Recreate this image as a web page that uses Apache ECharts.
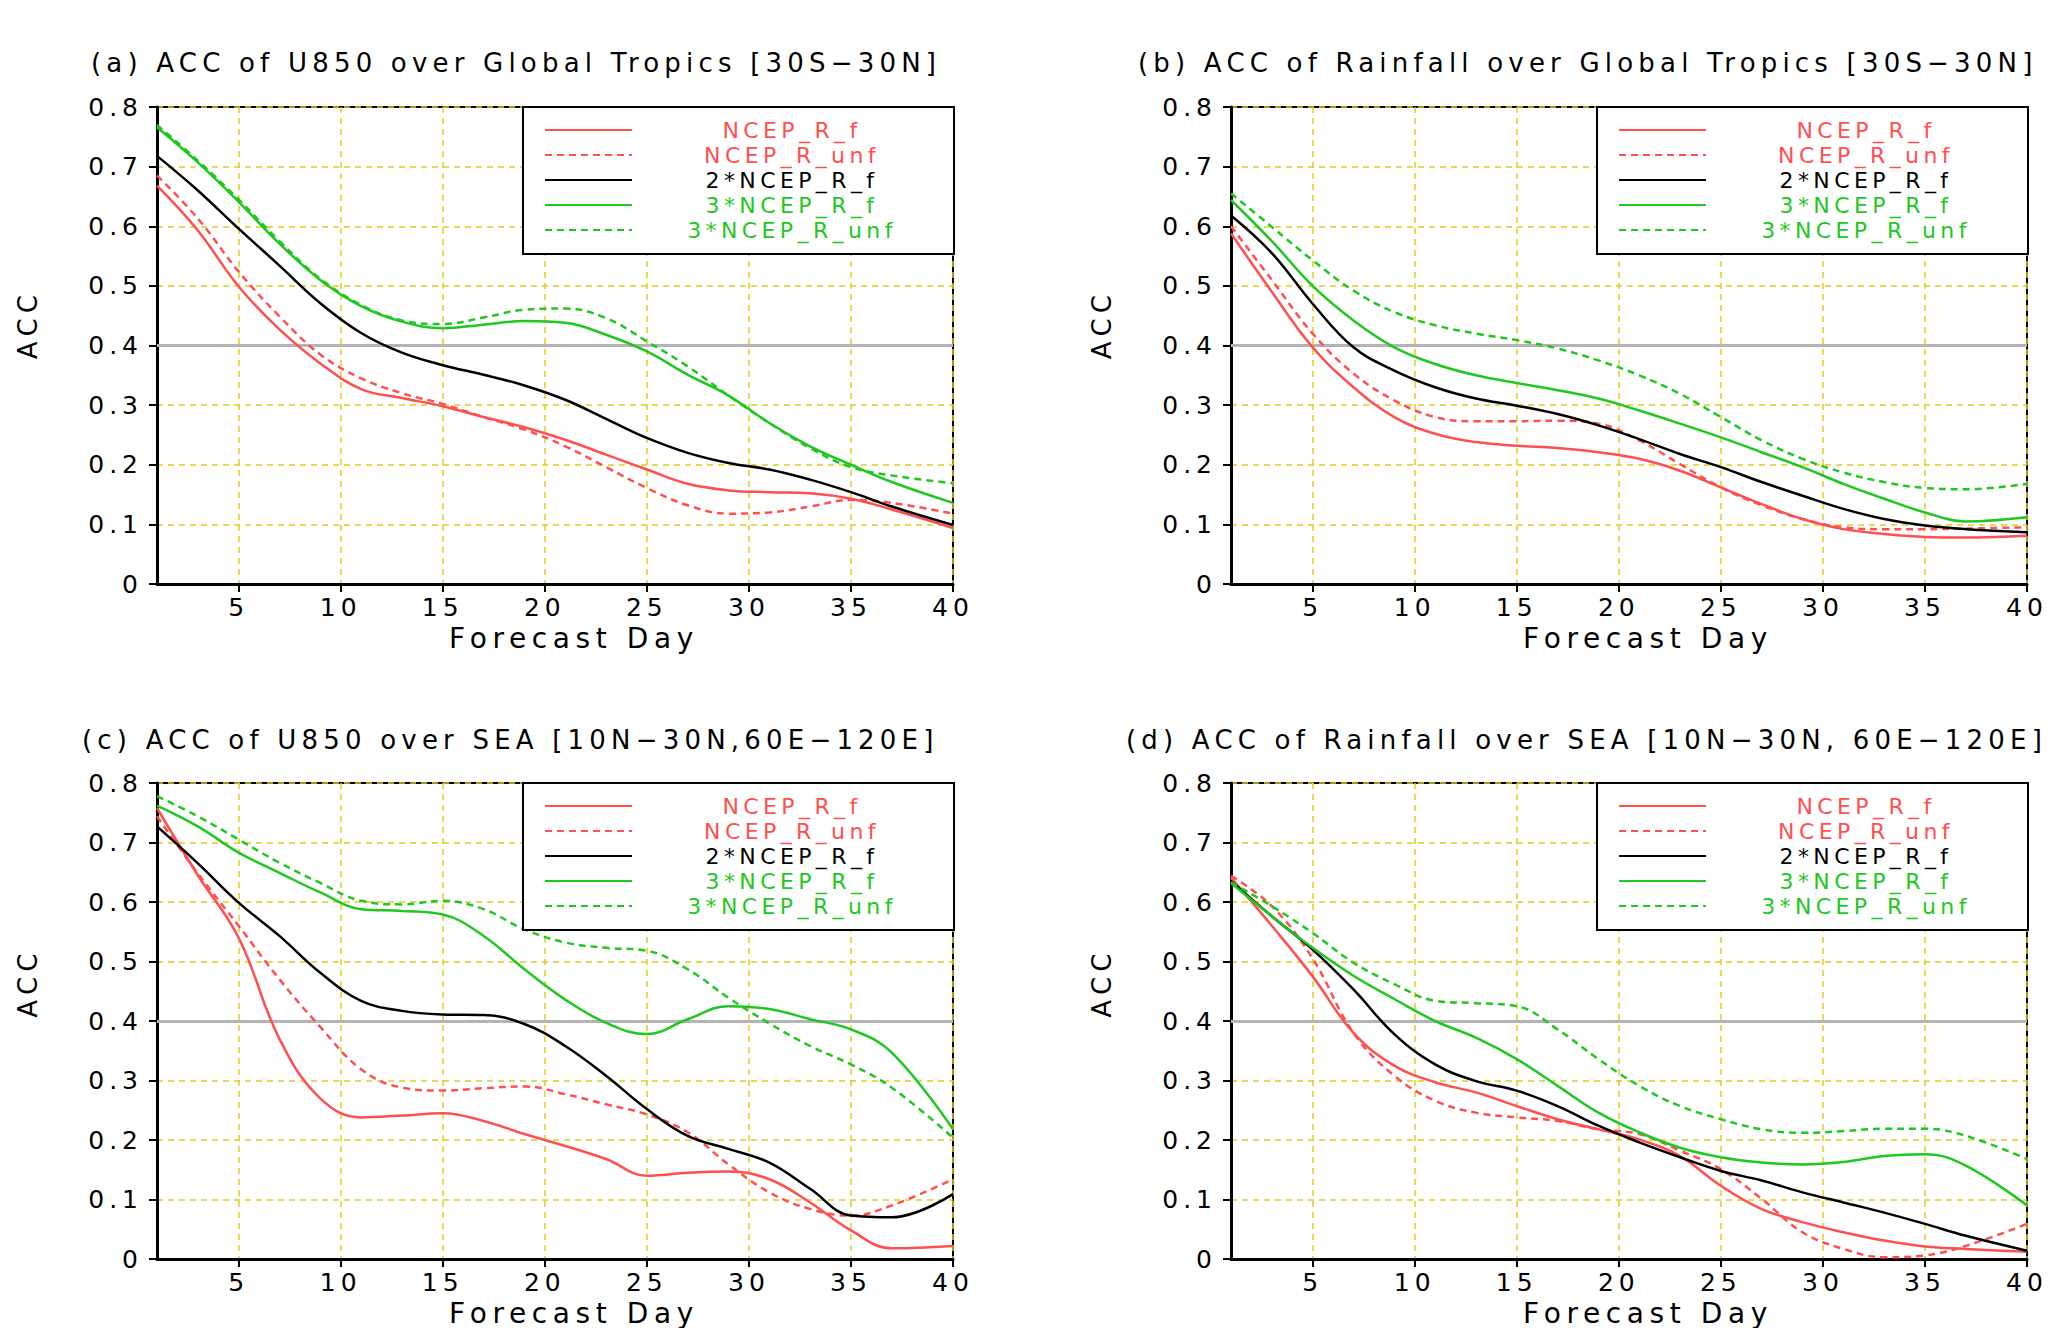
<!DOCTYPE html>
<html>
<head>
<meta charset="utf-8">
<title>ACC of U850 and Rainfall</title>
<script src="https://cdn.jsdelivr.net/npm/echarts@6/dist/echarts.min.js"></script>
<style>
  html, body { margin: 0; padding: 0; background: #fff; }
  #main { width: 2049px; height: 1328px; }
  /* GrADS text is set wide */
  #main text { letter-spacing: 0.2em; }
</style>
</head>
<body>
<div id="main"></div>
<script>
// forecast days the curves were read at
var days = [1, 3, 5, 7, 9, 11, 13, 15, 17, 19, 21, 23, 25, 27, 29, 31, 33, 35, 37, 40];
var dayTicks = [5, 10, 15, 20, 25, 30, 35, 40];
var names = ['NCEP_R_f', 'NCEP_R_unf', '2*NCEP_R_f', '3*NCEP_R_f', '3*NCEP_R_unf'];
var titles = [
  '(a) ACC of U850 over Global Tropics [30S\u221230N]',
  '(b) ACC of Rainfall over Global Tropics [30S\u221230N]',
  '(c) ACC of U850 over SEA [10N\u221230N,60E\u2212120E]',
  '(d) ACC of Rainfall over SEA [10N\u221230N, 60E\u2212120E]'
];

// (a) U850, global tropics
var a_r_f   = [0.668, 0.593, 0.499, 0.427, 0.370, 0.327, 0.312, 0.298, 0.280, 0.263, 0.242, 0.217, 0.192, 0.168, 0.157, 0.154, 0.152, 0.143, 0.125, 0.094];
var a_r_unf = [0.685, 0.613, 0.524, 0.449, 0.385, 0.345, 0.320, 0.302, 0.280, 0.259, 0.231, 0.196, 0.161, 0.132, 0.118, 0.120, 0.130, 0.141, 0.136, 0.118];
var a_2f    = [0.718, 0.660, 0.596, 0.534, 0.471, 0.421, 0.388, 0.367, 0.351, 0.333, 0.309, 0.277, 0.245, 0.220, 0.203, 0.192, 0.175, 0.154, 0.130, 0.099];
var a_3f    = [0.766, 0.707, 0.641, 0.571, 0.510, 0.466, 0.440, 0.429, 0.435, 0.441, 0.438, 0.418, 0.390, 0.351, 0.316, 0.270, 0.231, 0.200, 0.171, 0.136];
var a_3unf  = [0.770, 0.710, 0.645, 0.575, 0.512, 0.468, 0.442, 0.436, 0.447, 0.460, 0.462, 0.446, 0.407, 0.365, 0.316, 0.270, 0.228, 0.196, 0.182, 0.169];

// (b) rainfall, global tropics
var b_r_f   = [0.588, 0.490, 0.397, 0.330, 0.280, 0.252, 0.238, 0.232, 0.228, 0.221, 0.210, 0.190, 0.162, 0.134, 0.109, 0.092, 0.084, 0.079, 0.078, 0.081];
var b_r_unf = [0.600, 0.510, 0.420, 0.353, 0.308, 0.280, 0.273, 0.273, 0.274, 0.269, 0.241, 0.201, 0.162, 0.132, 0.109, 0.095, 0.092, 0.092, 0.093, 0.095];
var b_2f    = [0.618, 0.555, 0.470, 0.397, 0.358, 0.330, 0.311, 0.299, 0.285, 0.266, 0.243, 0.218, 0.196, 0.171, 0.148, 0.126, 0.109, 0.098, 0.092, 0.087];
var b_3f    = [0.644, 0.575, 0.500, 0.442, 0.397, 0.369, 0.350, 0.337, 0.325, 0.311, 0.291, 0.269, 0.246, 0.221, 0.196, 0.168, 0.143, 0.120, 0.105, 0.112];
var b_3unf  = [0.655, 0.599, 0.543, 0.492, 0.456, 0.434, 0.420, 0.409, 0.395, 0.375, 0.350, 0.319, 0.280, 0.241, 0.210, 0.187, 0.171, 0.161, 0.159, 0.168];

// (c) U850, SEA
var c_r_f   = [0.758, 0.645, 0.540, 0.370, 0.270, 0.238, 0.241, 0.245, 0.232, 0.210, 0.190, 0.168, 0.140, 0.145, 0.147, 0.134, 0.095, 0.048, 0.018, 0.022];
var c_r_unf = [0.744, 0.648, 0.560, 0.470, 0.390, 0.319, 0.288, 0.283, 0.287, 0.290, 0.277, 0.260, 0.243, 0.213, 0.159, 0.112, 0.084, 0.073, 0.090, 0.134];
var c_2f    = [0.727, 0.665, 0.599, 0.543, 0.481, 0.434, 0.417, 0.411, 0.410, 0.395, 0.358, 0.308, 0.252, 0.207, 0.185, 0.162, 0.118, 0.073, 0.070, 0.109];
var c_3f    = [0.762, 0.727, 0.683, 0.649, 0.616, 0.588, 0.585, 0.579, 0.543, 0.487, 0.436, 0.397, 0.378, 0.403, 0.425, 0.420, 0.403, 0.386, 0.347, 0.218];
var c_3unf  = [0.778, 0.744, 0.705, 0.666, 0.632, 0.602, 0.596, 0.602, 0.588, 0.554, 0.532, 0.523, 0.518, 0.487, 0.439, 0.396, 0.358, 0.327, 0.288, 0.204];

// (d) rainfall, SEA
var d_r_f   = [0.641, 0.560, 0.475, 0.380, 0.325, 0.297, 0.280, 0.257, 0.235, 0.218, 0.201, 0.173, 0.123, 0.084, 0.062, 0.045, 0.031, 0.021, 0.017, 0.012];
var d_r_unf = [0.644, 0.593, 0.505, 0.380, 0.308, 0.266, 0.246, 0.238, 0.232, 0.218, 0.210, 0.182, 0.151, 0.101, 0.045, 0.017, 0.003, 0.006, 0.022, 0.059];
var d_2f    = [0.635, 0.576, 0.520, 0.453, 0.378, 0.327, 0.299, 0.283, 0.257, 0.224, 0.196, 0.171, 0.148, 0.132, 0.112, 0.095, 0.078, 0.059, 0.039, 0.014];
var d_3f    = [0.632, 0.576, 0.523, 0.476, 0.437, 0.400, 0.372, 0.336, 0.291, 0.246, 0.213, 0.187, 0.171, 0.162, 0.159, 0.163, 0.173, 0.176, 0.157, 0.090];
var d_3unf  = [0.633, 0.593, 0.548, 0.498, 0.462, 0.434, 0.430, 0.425, 0.386, 0.336, 0.291, 0.257, 0.235, 0.218, 0.212, 0.215, 0.219, 0.219, 0.207, 0.168];

var panels = [
  [a_r_f, a_r_unf, a_2f, a_3f, a_3unf],
  [b_r_f, b_r_unf, b_2f, b_3f, b_3unf],
  [c_r_f, c_r_unf, c_2f, c_3f, c_3unf],
  [d_r_f, d_r_unf, d_2f, d_3f, d_3unf]
];

var FONT = 'DejaVu Sans';
var RED = '#ff4f4f', GREEN = '#1ec81e', BLACK = '#000000', GRIDC = '#e2cc1c';
var lineStyles = [
  {color: RED, type: 'solid'},
  {color: RED, type: [7, 5]},
  {color: BLACK, type: 'solid'},
  {color: GREEN, type: 'solid'},
  {color: GREEN, type: [7, 5]}
];
var richKey = ['r', 'r', 'k', 'g', 'g'];

// plot boxes
var PW = 796, PH = 477;
var boxes = [[157, 107], [1231, 107], [157, 783], [1231, 783]];
var titlePos = [[91, 49], [1138, 49], [82, 726], [1126, 726]];
var accShift = [42, 42, 76, 76];

var option = {
  animation: false,
  backgroundColor: '#fff',
  textStyle: {fontFamily: FONT},
  title: [],
  grid: [],
  xAxis: [],
  yAxis: [],
  legend: [],
  series: []
};

for (var i = 0; i < 4; i++) {
  var L = boxes[i][0], T = boxes[i][1];
  option.title.push({
    text: titles[i], left: titlePos[i][0], top: titlePos[i][1], padding: 0,
    textStyle: {fontSize: 26, fontWeight: 'normal', color: '#000', fontFamily: FONT, lineHeight: 28}
  });
  option.grid.push({
    left: L, top: T, width: PW, height: PH,
    show: true, borderColor: '#000', borderWidth: 2, backgroundColor: 'transparent'
  });
  option.xAxis.push({
    gridIndex: i, type: 'value', min: 1, max: 40,
    axisLine: {show: true, onZero: false, lineStyle: {color: '#000', width: 3}},
    axisTick: {show: true, customValues: dayTicks, length: 8, lineStyle: {color: '#000', width: 2}},
    axisLabel: {customValues: dayTicks, margin: 11, fontSize: 25, color: '#000', fontFamily: FONT},
    splitLine: {show: true, lineStyle: {color: GRIDC, type: [6, 5], width: 1.5}},
    name: 'Forecast Day', nameLocation: 'middle', nameGap: 40,
    nameTextStyle: {fontSize: 28, color: '#000', fontFamily: FONT, padding: [0, 0, 0, 38]}
  });
  option.yAxis.push({
    gridIndex: i, type: 'value', min: 0, max: 0.8, interval: 0.1,
    axisLine: {show: true, lineStyle: {color: '#000', width: 3}},
    axisTick: {show: true, length: 8, lineStyle: {color: '#000', width: 2}},
    axisLabel: {margin: 14, fontSize: 25, color: '#000', fontFamily: FONT},
    splitLine: {show: true, lineStyle: {color: GRIDC, type: [6, 5], width: 1.5}},
    name: 'ACC', nameLocation: 'middle', nameGap: 116, nameRotate: 90,
    nameTextStyle: {fontSize: 26, color: '#000', fontFamily: FONT, padding: [0, 0, 0, accShift[i]]}
  });
  option.legend.push({
    left: L + PW - 430, top: T, orient: 'vertical', selectedMode: false,
    data: names, itemWidth: 87, itemHeight: 14, itemGap: 3,
    padding: [12, 7, 13, 21],
    backgroundColor: '#fff', borderColor: '#000', borderWidth: 2,
    itemStyle: {opacity: 0},
    formatter: function (name) {
      return '{' + richKey[names.indexOf(name)] + '|' + name + '}';
    },
    textStyle: {
      fontFamily: FONT,
      rich: {
        r: {color: RED, fontSize: 22, width: 310, align: 'center', lineHeight: 20, fontFamily: FONT},
        k: {color: BLACK, fontSize: 22, width: 310, align: 'center', lineHeight: 20, fontFamily: FONT},
        g: {color: GREEN, fontSize: 22, width: 310, align: 'center', lineHeight: 20, fontFamily: FONT}
      }
    }
  });
  for (var s = 0; s < 5; s++) {
    var vals = panels[i][s];
    var ser = {
      name: names[s], type: 'line', xAxisIndex: i, yAxisIndex: i,
      data: days.map(function (d, k) { return [d, vals[k]]; }),
      smooth: 0.4, symbol: 'none', z: 3,
      lineStyle: {color: lineStyles[s].color, type: lineStyles[s].type, width: 2.5},
      itemStyle: {color: lineStyles[s].color}
    };
    if (s === 0) {
      // gray reference line at ACC = 0.4
      ser.markLine = {
        silent: true, symbol: ['none', 'none'], z: 1,
        label: {show: false},
        lineStyle: {color: '#b4b4b4', width: 3, type: 'solid'},
        data: [{yAxis: 0.4}]
      };
    }
    option.series.push(ser);
  }
}

var myChart = echarts.init(document.getElementById('main'), null, {renderer: 'svg'});
myChart.setOption(option);
window.onresize = function () {
  myChart.resize();
};
</script>
</body>
</html>
